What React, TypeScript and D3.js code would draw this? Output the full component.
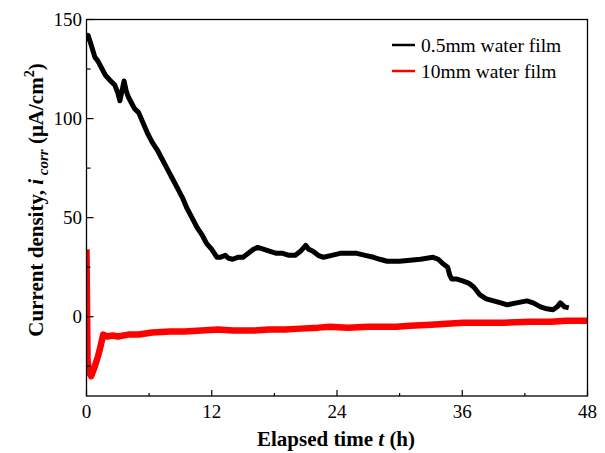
import React from "react";
import * as d3 from "d3";

const xTicks = [0, 12, 24, 36, 48];
const xMinor = [6, 18, 30, 42];
const yTicks = [0, 50, 100, 150];
const yMinor = [-25, 25, 75, 125];

const seriesNames = ["0.5mm water film", "10mm water film"];
const seriesColors = ["#000000", "#ff0000"];

// 0.5mm water film (time h, current density)
const thinFilm: [number, number][] = [
  [0, 139], [0.15, 142], [0.4, 138], [0.8, 131], [1.1, 129], [1.3, 127], [1.8, 122], [2.3, 119], [2.7, 117],
  [3.0, 113], [3.2, 109], [3.4, 114], [3.6, 119], [3.8, 114], [4.0, 111], [4.3, 108], [4.6, 105], [5.0, 103],
  [5.4, 98], [5.9, 92], [6.3, 88], [6.8, 84], [7.2, 80], [7.7, 75], [8.2, 70], [8.7, 65],
  [9.2, 60], [9.6, 55], [10.1, 50], [10.6, 45], [11.1, 41], [11.5, 37], [12.0, 34], [12.5, 30],
  [12.8, 30], [13.3, 31], [13.6, 29.5], [14.0, 29], [14.5, 30], [15.0, 30], [15.5, 32], [16.0, 34], [16.4, 35],
  [17.0, 34], [17.6, 33], [18.2, 32], [18.8, 32], [19.4, 31], [20.0, 31], [20.5, 33], [21.0, 36],
  [21.3, 34], [21.7, 33], [22.2, 31], [22.7, 30], [23.5, 31], [24.3, 32], [25.0, 32], [25.9, 32],
  [26.7, 31], [27.5, 30], [28.1, 29], [28.8, 28], [29.4, 28], [30.0, 28], [31.0, 28.5], [32.0, 29],
  [33.2, 30], [33.7, 29], [34.1, 27], [34.6, 25], [34.8, 21], [35.0, 19], [35.5, 19], [36.1, 18],
  [36.6, 17], [37.1, 15], [37.7, 11], [38.3, 9], [39.0, 8], [39.7, 7], [40.3, 6], [41.2, 7],
  [42.2, 8], [42.8, 7], [43.5, 5], [44.1, 4], [44.7, 3.5], [45.1, 5], [45.4, 7], [45.8, 5], [46.2, 4.5],
];

// 10mm water film
const thickFilm: [number, number][] = [
  [0, 34], [0.05, 5], [0.1, -22], [0.25, -28], [0.45, -30], [0.8, -25], [1.1, -20], [1.3, -16],
  [1.6, -9], [2.0, -10], [2.5, -9.5], [3.0, -10], [4, -9], [5, -9], [6.3, -8], [8, -7.5],
  [9.4, -7.5], [11, -7], [12.6, -6.5], [14, -7], [15.9, -7], [17.5, -6.5], [19, -6.5], [20.5, -6],
  [22.2, -5.5], [23.3, -5], [25, -5.5], [27, -5], [29.7, -5], [31, -4.5], [33, -4], [34.5, -3.5],
  [36.1, -3], [38, -3], [40, -3], [42.5, -2.5], [44.5, -2.5], [46, -2], [48, -2],
];

const W = 605, H = 453;
const L = 86.5, R = 587.5, T = 19.5, B = 396;

export default function App() {
  const x = d3.scaleLinear().domain([0, 48]).range([L, R]);
  const y = d3.scaleLinear().domain([-40, 150]).range([B, T]);
  const line = d3.line<[number, number]>().x(d => x(d[0])).y(d => y(d[1]));
  const font = "'Liberation Serif', 'Times New Roman', serif";

  return (
    <svg width={W} height={H} style={{ position: "absolute", left: 0, top: 0, background: "#fff" }} fontFamily={font}>
      <rect x={0} y={0} width={W} height={H} fill="#fff" />
      <defs>
        <clipPath id="plot"><rect x={L} y={T} width={R - L} height={B - T} /></clipPath>
      </defs>
      <g clipPath="url(#plot)">
        <path d={line(thickFilm) || ""} fill="none" stroke={seriesColors[1]} strokeWidth={6.5} strokeLinejoin="round" />
        <path d={line(thinFilm) || ""} fill="none" stroke={seriesColors[0]} strokeWidth={5} strokeLinejoin="round" />
      </g>
      <rect x={L} y={T} width={R - L} height={B - T} fill="none" stroke="#000" strokeWidth={1.3} />
      {xTicks.map(t => (
        <g key={"xt" + t}>
          <line x1={x(t)} x2={x(t)} y1={B} y2={B - 6} stroke="#000" strokeWidth={1.2} />
          <text x={x(t)} y={418} fontSize={19} textAnchor="middle">{t}</text>
        </g>
      ))}
      {xMinor.map(t => (
        <line key={"xm" + t} x1={x(t)} x2={x(t)} y1={B} y2={B - 3} stroke="#000" strokeWidth={1.2} />
      ))}
      {yTicks.map(t => (
        <g key={"yt" + t}>
          <line x1={L} x2={L + 7} y1={y(t)} y2={y(t)} stroke="#000" strokeWidth={1.2} />
          <text x={82} y={y(t) + 6.5} fontSize={19} textAnchor="end">{t}</text>
        </g>
      ))}
      {yMinor.map(t => (
        <line key={"ym" + t} x1={L} x2={L + 4} y1={y(t)} y2={y(t)} stroke="#000" strokeWidth={1.2} />
      ))}
      <text x={336} y={446} fontSize={21} fontWeight="bold" textAnchor="middle">
        Elapsed time <tspan fontStyle="italic">t</tspan> (h)
      </text>
      <text transform="translate(43,200) rotate(-90)" fontSize={21} fontWeight="bold" textAnchor="middle">
        Current density, <tspan fontStyle="italic">i</tspan>
        <tspan fontStyle="italic" fontSize={15} dy={5}> corr</tspan>
        <tspan dy={-5}> (μA/cm</tspan>
        <tspan fontSize={14} dy={-9}>2</tspan>
        <tspan dy={9}>)</tspan>
      </text>
      {seriesNames.map((n, i) => (
        <g key={n}>
          <line x1={392} x2={415} y1={45 + i * 26} y2={45 + i * 26} stroke={seriesColors[i]} strokeWidth={2.5} />
          <text x={421} y={45 + i * 26 + 6.5} fontSize={19.5}>{n}</text>
        </g>
      ))}
    </svg>
  );
}
